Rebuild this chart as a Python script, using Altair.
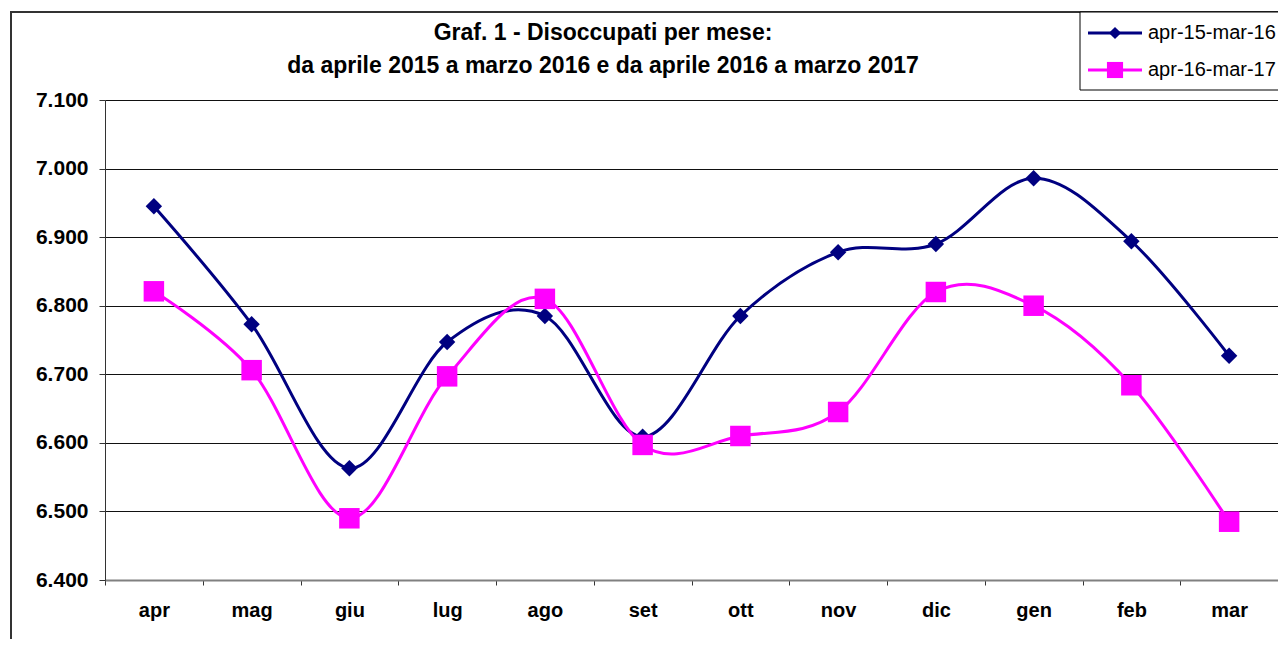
import altair as alt
import pandas as pd

mesi = ["apr", "mag", "giu", "lug", "ago", "set", "ott", "nov", "dic", "gen", "feb", "mar"]
serie_nomi = ["apr-15-mar-16", "apr-16-mar-17"]
valori_1516 = [6945, 6773, 6563, 6747, 6785, 6609, 6785, 6878, 6890, 6986, 6894, 6727]
valori_1617 = [6821, 6706, 6490, 6697, 6810, 6597, 6610, 6645, 6820, 6800, 6684, 6485]
y_ticks = [6400, 6500, 6600, 6700, 6800, 6900, 7000, 7100]
titolo = ["Graf. 1 - Disoccupati per mese:",
          "da aprile 2015 a marzo 2016 e da aprile 2016 a marzo 2017"]
colori = ["#000080", "#FF00FF"]
forme = ["diamond", "square"]

rows = []
for nome, vals in zip(serie_nomi, [valori_1516, valori_1617]):
    for m, v in zip(mesi, vals):
        rows.append({"mese": m, "valore": v, "serie": nome})
df = pd.DataFrame(rows)

W, H = 1173, 480
one = pd.DataFrame({"a": [0]})

xenc = alt.X("mese:N", sort=mesi, bandPosition=0.5,
             scale=alt.Scale(type="band", paddingInner=0, paddingOuter=0),
             axis=alt.Axis(title=None, labelAngle=0, tickBand="extent", tickSize=5,
                           labelFont="Liberation Sans", labelFontWeight="bold",
                           labelFontSize=20, labelColor="#000", labelPadding=15,
                           domainColor="#808080", domainWidth=2, tickColor="#333",
                           grid=False))
yenc = alt.Y("valore:Q",
             scale=alt.Scale(domain=[6400, 7100], nice=False, zero=False),
             axis=alt.Axis(title=None, values=y_ticks, tickSize=6,
                           labelExpr="replace(format(datum.value, ',d'), ',', '.')",
                           labelFont="Liberation Sans", labelFontWeight="bold",
                           labelFontSize=21, labelColor="#000", labelPadding=11,
                           domainColor="#333", tickColor="#333",
                           grid=True, gridColor="#111", gridWidth=1))
cscale = alt.Scale(domain=serie_nomi, range=colori)

border = alt.Chart(one).mark_rect(filled=False, stroke="#333", strokeWidth=2).encode(
    x=alt.value(-94), x2=alt.value(1400), y=alt.value(-88), y2=alt.value(800))

lines = alt.Chart(df).mark_line(interpolate="cardinal", tension=0, strokeWidth=3).encode(
    x=xenc, y=yenc, color=alt.Color("serie:N", scale=cscale, legend=None))

points = alt.Chart(df).mark_point(filled=True, opacity=1).encode(
    x=xenc, y=yenc,
    color=alt.Color("serie:N", scale=cscale, legend=None),
    shape=alt.Shape("serie:N", scale=alt.Scale(domain=serie_nomi, range=forme), legend=None),
    size=alt.Size("serie:N", scale=alt.Scale(domain=serie_nomi, range=[270, 420]), legend=None))

title_layers = []
for i, t in enumerate(titolo):
    title_layers.append(alt.Chart(one).mark_text(
        text=t, font="Liberation Sans", fontWeight="bold", fontSize=23,
        align="center", baseline="middle", color="#000").encode(
        x=alt.value(498), y=alt.value(-67 + 33 * i)))

legend_box = alt.Chart(one).mark_rect(fill="white", stroke="#000", strokeWidth=1).encode(
    x=alt.value(975), x2=alt.value(1300), y=alt.value(-88), y2=alt.value(-10))

legend_layers = []
for i, (nome, col, forma, sz) in enumerate(zip(serie_nomi, colori, forme, [150, 260])):
    yy = -67 + 37 * i
    legend_layers.append(alt.Chart(one).mark_rule(color=col, strokeWidth=3).encode(
        x=alt.value(983), x2=alt.value(1037), y=alt.value(yy)))
    legend_layers.append(alt.Chart(one).mark_point(
        shape=forma, filled=True, color=col, opacity=1, size=sz).encode(
        x=alt.value(1010), y=alt.value(yy)))
    legend_layers.append(alt.Chart(one).mark_text(
        text=nome, font="Liberation Sans", fontSize=20, align="left",
        baseline="middle", color="#000").encode(x=alt.value(1043), y=alt.value(yy)))

chart = alt.layer(border, lines, points, *title_layers, legend_box, *legend_layers).properties(
    width=W, height=H,
    autosize=alt.AutoSizeParams(type="none"),
    padding={"left": 97, "top": 92, "right": 0, "bottom": 59},
).configure_view(stroke=None).configure(background="white")

chart.save("out.html", embed_options={"renderer": "svg", "actions": False})
